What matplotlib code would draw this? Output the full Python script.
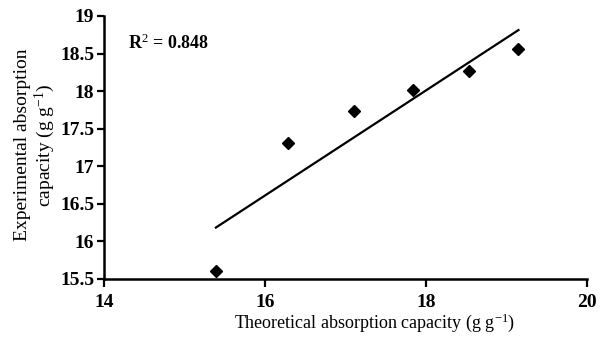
import matplotlib
matplotlib.use("Agg")
import matplotlib.pyplot as plt
import numpy as np

plt.rcParams['font.family'] = ['Liberation Serif', 'DejaVu Serif']
plt.rcParams['mathtext.fontset'] = 'custom'
plt.rcParams['mathtext.rm'] = 'Liberation Serif'
plt.rcParams['mathtext.it'] = 'Liberation Serif:italic'
plt.rcParams['mathtext.bf'] = 'Liberation Serif:bold'

theoretical = [15.39, 16.29, 17.11, 17.84, 18.54, 19.15]
experimental = [15.60, 17.31, 17.73, 18.01, 18.27, 18.56]
x_ticks = [14, 16, 18, 20]
y_ticks = [15.5, 16, 16.5, 17, 17.5, 18, 18.5, 19]
y_tick_labels = ['15.5', '16', '16.5', '17', '17.5', '18', '18.5', '19']
r2_text = 'R$^{2}$ = 0.848'

fig = plt.figure(figsize=(6.05, 3.47), dpi=100)
ax = fig.add_axes([0.172, 0.196, 0.798, 0.758])

x = np.array(theoretical)
y = np.array(experimental)
slope, intercept = np.polyfit(x, y, 1)
xl = np.array([x.min(), x.max()])
ax.plot(xl, slope * xl + intercept, color='black', lw=1.6)
ax.plot(x, y, linestyle='none', marker='D', markersize=6.2, color='black')

ax.set_xlim(14, 20)
ax.set_ylim(15.5, 19)
ax.set_xticks(x_ticks)
ax.set_xticklabels([str(t) for t in x_ticks], fontweight='bold', fontsize=14)
ax.set_yticks(y_ticks)
ax.set_yticklabels(y_tick_labels, fontweight='bold', fontsize=14)

for s in ['top', 'right']:
    ax.spines[s].set_visible(False)
for s in ['left', 'bottom']:
    ax.spines[s].set_linewidth(1.8)
ax.tick_params(axis='x', direction='out', length=5.5, width=1.6, pad=5)
ax.tick_params(axis='y', direction='out', length=5, width=1.6, pad=2)

ax.set_xlabel('Theoretical absorption capacity (g g$^{\\mathdefault{-1}}$)', fontsize=13)
ax.xaxis.set_label_coords(0.56, -0.125)
ax.set_ylabel('Experimental absorption\ncapacity (g g$^{\\mathdefault{-1}}$)', fontsize=14, linespacing=1.12)
ax.yaxis.set_label_coords(-0.097, 0.51)

ax.text(14.30, 18.64, r2_text, fontsize=13, fontweight='bold', va='center', ha='left')

fig.savefig('out.png', dpi=100)
